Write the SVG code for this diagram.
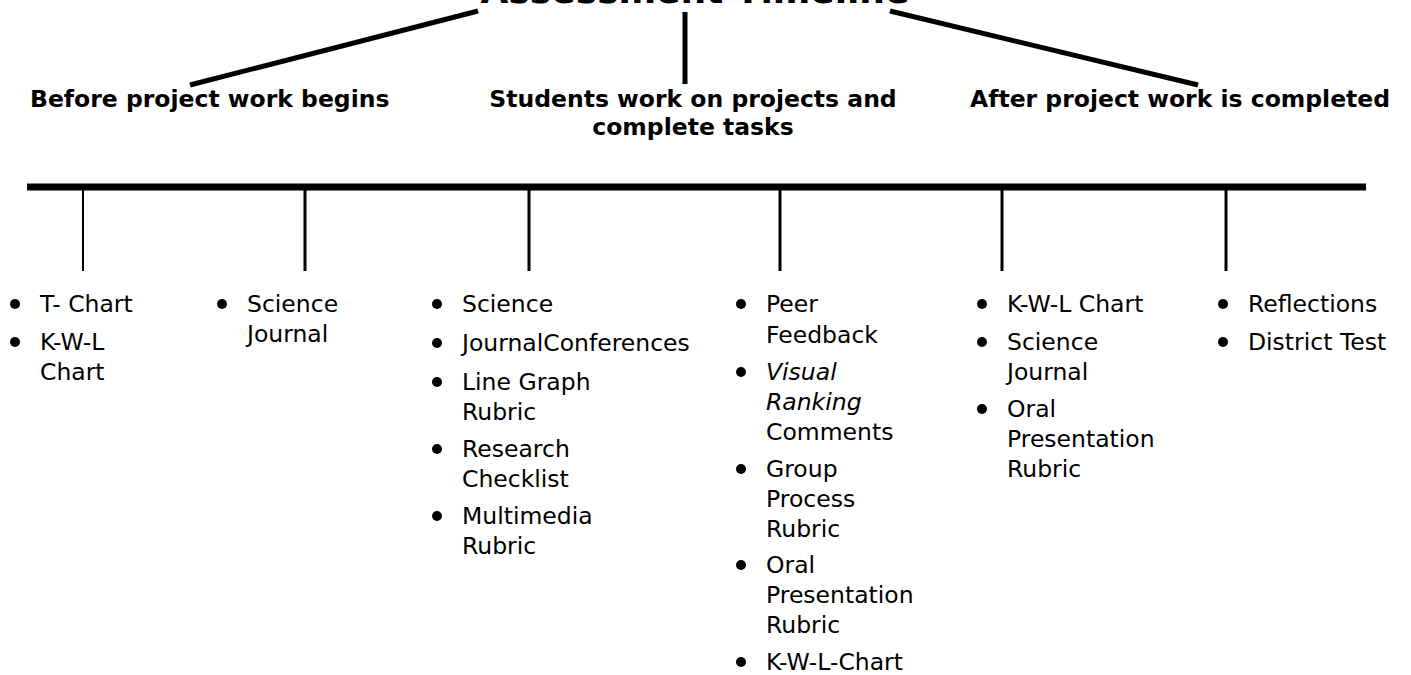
<svg xmlns="http://www.w3.org/2000/svg" width="1411" height="675" viewBox="0 0 1411 675">
<style>
.t{font-family:"DejaVu Sans",Verdana,sans-serif;font-size:23.5px;fill:#000}
.i{font-style:italic}
.h{font-family:"DejaVu Sans",Verdana,sans-serif;font-size:23.5px;font-weight:bold;fill:#000}
.title{font-family:"DejaVu Sans",Verdana,sans-serif;font-size:36px;font-weight:bold;fill:#000}
.ln{stroke:#000;stroke-linecap:butt;fill:none}
.b{fill:#000}
</style>
<rect width="1411" height="675" fill="#fff"/>
<g id="title"><text class="title" x="695" y="3" text-anchor="middle">Assessment Timeline</text></g>
<g id="connectors">
<line class="ln" x1="190" y1="85" x2="478" y2="11" stroke-width="5"/>
<line class="ln" x1="685" y1="12" x2="685" y2="84" stroke-width="5"/>
<line class="ln" x1="890" y1="11" x2="1198" y2="85" stroke-width="5"/>
<line class="ln" x1="27" y1="187" x2="1366" y2="187" stroke-width="7"/>
<line class="ln" x1="83" y1="187" x2="83" y2="271" stroke-width="2"/>
<line class="ln" x1="305" y1="187" x2="305" y2="271" stroke-width="3"/>
<line class="ln" x1="529" y1="187" x2="529" y2="271" stroke-width="3"/>
<line class="ln" x1="780" y1="187" x2="780" y2="271" stroke-width="3"/>
<line class="ln" x1="1002" y1="187" x2="1002" y2="271" stroke-width="3"/>
<line class="ln" x1="1226" y1="187" x2="1226" y2="271" stroke-width="3"/>
</g>
<g id="header-before"><text class="h" x="30" y="107">Before project work begins</text></g>
<g id="header-during"><text class="h" x="693" y="107" text-anchor="middle">Students work on projects and</text><text class="h" x="693" y="135" text-anchor="middle">complete tasks</text></g>
<g id="header-after"><text class="h" x="970" y="107">After project work is completed</text></g>
<g id="col1">
<circle class="b" cx="15" cy="304" r="5"/><text class="t" x="40" y="312">T- Chart</text>
<circle class="b" cx="15" cy="342" r="5"/><text class="t" x="40" y="350">K-W-L</text><text class="t" x="40" y="380">Chart</text>
</g>
<g id="col2">
<circle class="b" cx="222" cy="304" r="5"/><text class="t" x="247" y="312">Science</text><text class="t" x="247" y="342">Journal</text>
</g>
<g id="col3">
<circle class="b" cx="437" cy="304" r="5"/><text class="t" x="462" y="312">Science</text>
<circle class="b" cx="437" cy="343" r="5"/><text class="t" x="462" y="351">JournalConferences</text>
<circle class="b" cx="437" cy="382" r="5"/><text class="t" x="462" y="390">Line Graph</text><text class="t" x="462" y="420">Rubric</text>
<circle class="b" cx="437" cy="449" r="5"/><text class="t" x="462" y="457">Research</text><text class="t" x="462" y="487">Checklist</text>
<circle class="b" cx="437" cy="516" r="5"/><text class="t" x="462" y="524">Multimedia</text><text class="t" x="462" y="554">Rubric</text>
</g>
<g id="col4">
<circle class="b" cx="741" cy="304" r="5"/><text class="t" x="766" y="312">Peer</text><text class="t" x="766" y="343">Feedback</text>
<circle class="b" cx="741" cy="372" r="5"/><text class="t i" x="766" y="380">Visual</text><text class="t i" x="766" y="410">Ranking</text><text class="t" x="766" y="440">Comments</text>
<circle class="b" cx="741" cy="469" r="5"/><text class="t" x="766" y="477">Group</text><text class="t" x="766" y="507">Process</text><text class="t" x="766" y="537">Rubric</text>
<circle class="b" cx="741" cy="565" r="5"/><text class="t" x="766" y="573">Oral</text><text class="t" x="766" y="603">Presentation</text><text class="t" x="766" y="633">Rubric</text>
<circle class="b" cx="741" cy="662" r="5"/><text class="t" x="766" y="670">K-W-L-Chart</text>
</g>
<g id="col5">
<circle class="b" cx="982" cy="304" r="5"/><text class="t" x="1007" y="312">K-W-L Chart</text>
<circle class="b" cx="982" cy="342" r="5"/><text class="t" x="1007" y="350">Science</text><text class="t" x="1007" y="380">Journal</text>
<circle class="b" cx="982" cy="409" r="5"/><text class="t" x="1007" y="417">Oral</text><text class="t" x="1007" y="447">Presentation</text><text class="t" x="1007" y="477">Rubric</text>
</g>
<g id="col6">
<circle class="b" cx="1223" cy="304" r="5"/><text class="t" x="1248" y="312">Reflections</text>
<circle class="b" cx="1223" cy="342" r="5"/><text class="t" x="1248" y="350">District Test</text>
</g>
</svg>
